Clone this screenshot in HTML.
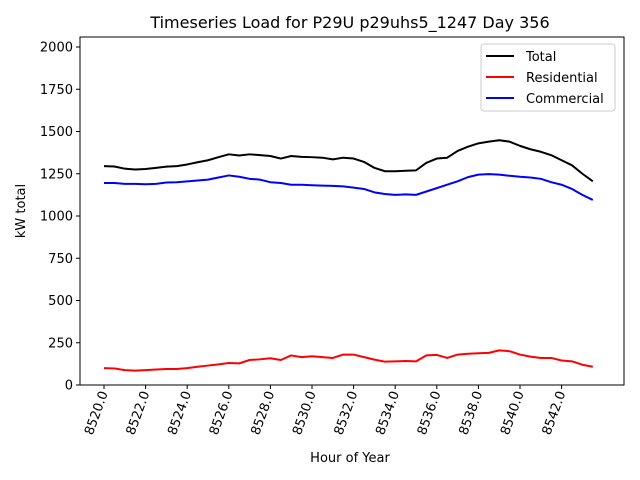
<!DOCTYPE html>
<html><head><meta charset="utf-8"><style>
body{margin:0;background:#fff;}
svg{display:block;font-family:"DejaVu Sans","Liberation Sans",sans-serif;}
</style></head><body>
<svg id="chart" width="640" height="480">
<rect x="0" y="0" width="640" height="480" fill="#fff"/>
<text x="350" y="28" font-size="16" text-anchor="middle">Timeseries Load for P29U p29uhs5_1247  Day 356</text>
<g id="plot"></g>
<text x="350" y="462" font-size="13" text-anchor="middle">Hour of Year</text>
<text transform="translate(25,211) rotate(-90)" font-size="13" text-anchor="middle">kW total</text>
<g>
<rect x="481" y="44" width="134" height="67" rx="3" fill="#fff" stroke="#ccc"/>
<line x1="486" y1="56" x2="514" y2="56" stroke="#000" stroke-width="2"/>
<text x="526" y="61" font-size="13">Total</text>
<line x1="486" y1="77" x2="514" y2="77" stroke="#f00" stroke-width="2"/>
<text x="526" y="82" font-size="13">Residential</text>
<line x1="486" y1="98" x2="514" y2="98" stroke="#00f" stroke-width="2"/>
<text x="526" y="103" font-size="13">Commercial</text>
</g>
</svg>
<script>
const hours=[];for(let i=0;i<48;i++)hours.push(8520+i*0.5);
const totalValues=[1295,1293,1280,1275,1278,1285,1292,1295,1305,1318,1330,1348,1365,1358,1365,1360,1355,1340,1355,1350,1348,1345,1335,1345,1340,1320,1285,1265,1265,1268,1270,1315,1340,1345,1385,1410,1430,1440,1448,1440,1415,1395,1380,1360,1330,1300,1250,1205];
const residentialValues=[100,98,88,85,88,92,95,95,100,108,115,122,130,128,148,152,158,148,175,165,170,165,160,180,180,165,150,138,140,142,140,175,178,160,180,185,188,190,205,200,180,168,160,160,145,140,120,108];
const commercialValues=[1195,1195,1190,1190,1188,1190,1198,1200,1205,1210,1215,1228,1240,1232,1220,1215,1200,1195,1185,1185,1182,1180,1178,1175,1168,1160,1140,1130,1125,1128,1125,1145,1165,1185,1205,1230,1245,1248,1245,1238,1232,1228,1220,1200,1185,1160,1125,1095];
const yTicks=[0,250,500,750,1000,1250,1500,1750,2000];
const xTicks=[8520,8522,8524,8526,8528,8530,8532,8534,8536,8538,8540,8542];
const L=80,R=624,T=37,B=385;
const x=h=>104+(h-8520)*20.8;
const y=v=>385-v*(338/2000);
const NS='http://www.w3.org/2000/svg';
const g=document.getElementById('plot');
function mk(t,a){const e=document.createElementNS(NS,t);for(const k in a)e.setAttribute(k,a[k]);g.appendChild(e);return e;}
yTicks.forEach(v=>{
 const l=mk('line',{x1:L-4,x2:L,y1:y(v),y2:y(v),stroke:'#000'});
 
 
 const t=mk('text',{x:L-7,y:y(v)+4.5,'font-size':13,'text-anchor':'end'});t.textContent=v;
 
 
});
xTicks.forEach(h=>{
 const l=mk('line',{x1:x(h),x2:x(h),y1:B,y2:B+4,stroke:'#000'});
 
 
 const t=mk('text',{transform:`translate(${x(h)+4},${B+8}) rotate(-70)`,'font-size':13,'text-anchor':'end'});t.textContent=h.toFixed(1);
 
 
});
function line(vals,color,name){
 const p=mk('polyline',{points:vals.map((v,i)=>x(hours[i])+','+y(v)).join(' '),fill:'none',stroke:color,'stroke-width':2,'stroke-linejoin':'round'});
 
 
}
line(totalValues,'#000','total-line');
line(residentialValues,'#f00','residential-line');
line(commercialValues,'#00f','commercial-line');
const f=mk('rect',{x:L,y:T,width:R-L,height:B-T,fill:'none',stroke:'#000'});


</script>
</body></html>
